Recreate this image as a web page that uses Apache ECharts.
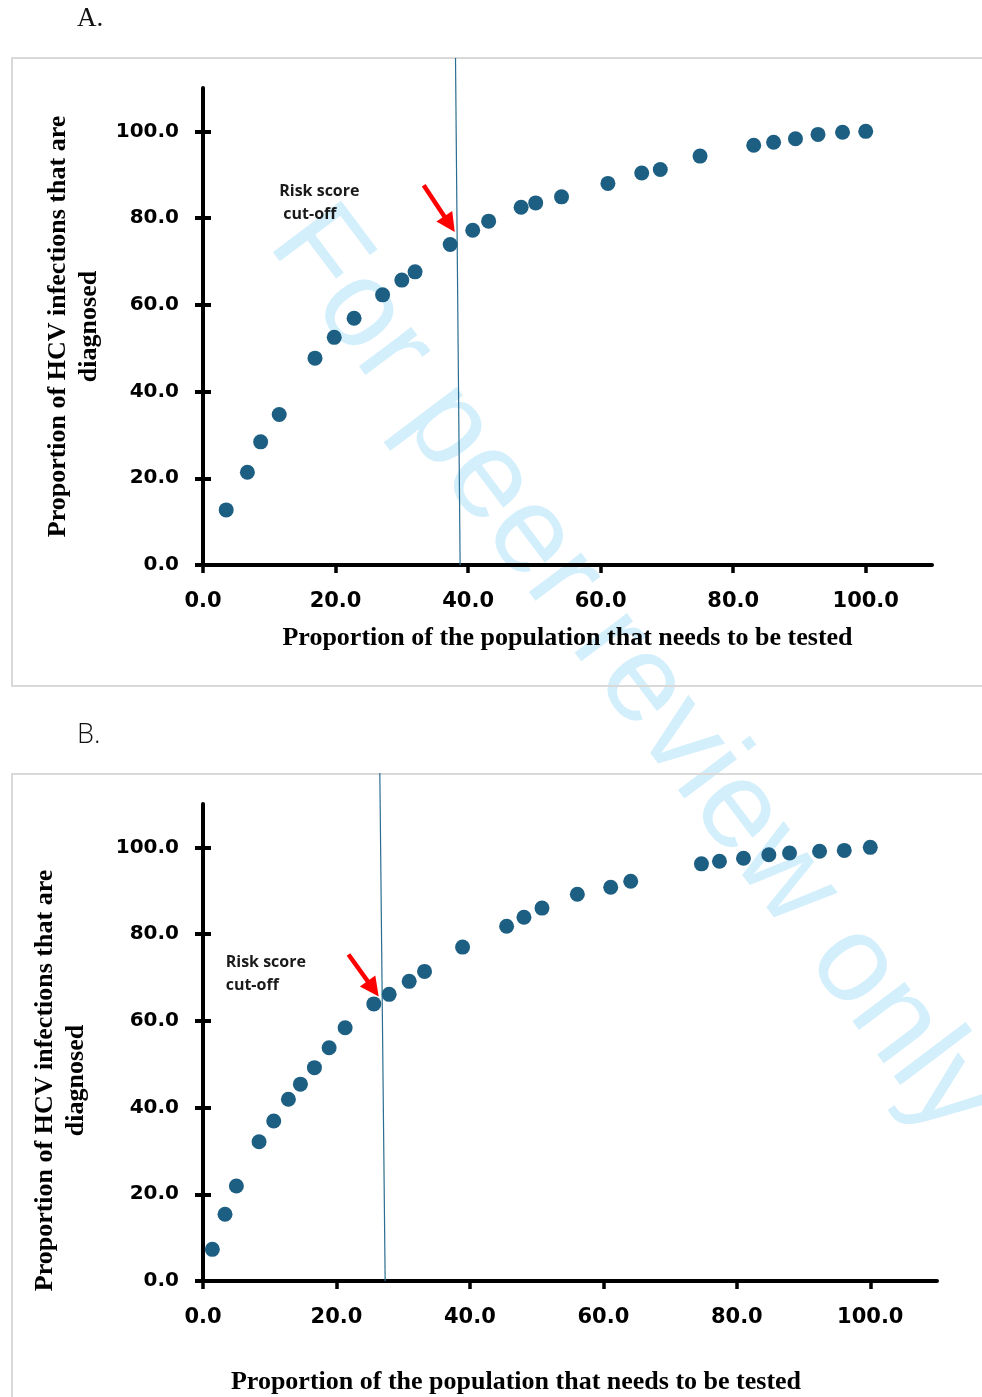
<!DOCTYPE html>
<html>
<head>
<meta charset="utf-8">
<script src="https://cdn.jsdelivr.net/npm/echarts@6/dist/echarts.min.js"></script>
<style>
  html, body { margin: 0; padding: 0; background: #ffffff; }
  #chart { width: 982px; height: 1397px; }
</style>
</head>
<body>
<div id="chart"></div>
<script>
// Panel A: proportion of population tested (x) vs proportion of HCV infections diagnosed (y)
const popTestedA = [3.5, 6.7, 8.7, 11.5, 16.9, 19.8, 22.8, 27.1, 30.0, 32.0, 37.3, 40.7, 43.1, 48.0, 50.2, 54.1, 61.1, 66.2, 69.0, 75.0, 83.1, 86.1, 89.4, 92.8, 96.5, 100.0];
const diagnosedA  = [12.7, 21.4, 28.4, 34.7, 47.7, 52.5, 56.9, 62.3, 65.7, 67.6, 73.9, 77.2, 79.3, 82.5, 83.5, 84.9, 88.0, 90.4, 91.2, 94.3, 96.8, 97.5, 98.3, 99.3, 99.8, 100.0];

// Panel B
const popTestedB = [1.4, 3.3, 5.0, 8.4, 10.6, 12.8, 14.6, 16.7, 18.9, 21.3, 25.6, 27.9, 30.9, 33.2, 38.9, 45.5, 48.1, 50.8, 56.1, 61.1, 64.1, 74.7, 77.4, 81.0, 84.8, 87.9, 92.4, 96.1, 100.0];
const diagnosedB  = [7.3, 15.4, 21.9, 32.1, 36.9, 41.9, 45.4, 49.2, 53.8, 58.4, 63.9, 66.1, 69.1, 71.4, 77.0, 81.8, 83.9, 86.0, 89.2, 90.8, 92.2, 96.2, 96.8, 97.5, 98.3, 98.7, 99.1, 99.3, 100.0];

// Axis tick values
const tickValues = [0, 20, 40, 60, 80, 100];
const axisMax = 110;

// Risk score cut-off (x position of vertical line at its top and bottom end)
const cutoffA = [38.1, 38.8];
const cutoffB = [26.5, 27.3];

// Arrow from tail to head centre (data units)
const arrowA = [[33.3, 87.6], [37.2, 78.6]];
const arrowB = [[21.8, 75.3], [25.5, 67.4]];

// Annotation anchor points (data units)
const noteA = [11.5, 83.4];
const noteB = [3.4, 70.7];
const noteTextA = 'Risk score\n cut-off';
const noteTextB = 'Risk score\ncut-off';

const xTitle = 'Proportion of the population that needs to be tested';
const yTitle = 'Proportion of HCV infections that are\ndiagnosed';

const DOT = '#1d5f82';
const CUT = '#2c6e91';

function pairs(xs, ys) { return xs.map((x, i) => [x, ys[i]]); }
const fmt = v => v.toFixed(1);

function mainX(grid, titleGap, titlePad) {
  return {
    type: 'value', gridIndex: grid, min: 0, max: axisMax,
    splitLine: { show: false },
    axisLine: { show: true, onZero: false, lineStyle: { color: '#000', width: 4 } },
    axisTick: { show: true, length: 8, lineStyle: { color: '#000', width: 3.5 }, customValues: tickValues },
    axisLabel: { customValues: tickValues, formatter: fmt, margin: 26, color: '#000',
      fontFamily: 'DejaVu Sans', fontWeight: 'bold', fontSize: 21 },
    name: xTitle, nameLocation: 'middle', nameGap: titleGap,
    nameTextStyle: { fontFamily: 'Liberation Serif', fontWeight: 'bold', fontSize: 26, color: '#000', padding: titlePad }
  };
}
function mainY(grid, titleGap, titlePad) {
  return {
    type: 'value', gridIndex: grid, min: 0, max: axisMax,
    splitLine: { show: false },
    axisLine: { show: true, onZero: false, lineStyle: { color: '#000', width: 4 } },
    axisTick: { show: true, length: 8, lineStyle: { color: '#000', width: 4 }, customValues: tickValues },
    axisLabel: { customValues: tickValues, formatter: fmt, margin: 24, color: '#000',
      fontFamily: 'DejaVu Sans', fontWeight: 'bold', fontSize: 20 },
    name: yTitle, nameLocation: 'middle', nameGap: titleGap, nameRotate: 90,
    nameTextStyle: { fontFamily: 'Liberation Serif', fontWeight: 'bold', fontSize: 26, lineHeight: 31,
      color: '#000', padding: titlePad }
  };
}
// inner half of the crossing y ticks
function innerY(grid) {
  return {
    type: 'value', gridIndex: grid, min: 0, max: axisMax, position: 'left',
    splitLine: { show: false }, axisLine: { show: false }, axisLabel: { show: false },
    axisTick: { show: true, inside: true, length: 8, lineStyle: { color: '#000', width: 4 }, customValues: tickValues }
  };
}
function hiddenX(grid) {
  return { type: 'value', gridIndex: grid, min: 0, max: axisMax, show: false };
}
function hiddenY(grid) {
  return { type: 'value', gridIndex: grid, min: 0, max: 1, show: false };
}

function dots(xi, yi, xs, ys, note, noteText, arrow) {
  return {
    type: 'scatter', xAxisIndex: xi, yAxisIndex: yi,
    data: pairs(xs, ys), symbol: 'circle', symbolSize: 15,
    itemStyle: { color: DOT, opacity: 1 }, z: 5,
    markPoint: {
      silent: true, symbol: 'circle', symbolSize: 0,
      label: { show: true, position: [0, 0], align: 'left', verticalAlign: 'middle',
        fontFamily: 'Open Sans', fontWeight: 'bold', fontSize: 16, lineHeight: 23, color: '#1a1a1a',
        formatter: noteText },
      data: [{ coord: note }]
    },
    markLine: {
      silent: true, symbol: ['none', 'triangle'], symbolSize: 19,
      label: { show: false },
      lineStyle: { color: '#ff0000', width: 4.5, type: 'solid', opacity: 1 },
      itemStyle: { color: '#ff0000' },
      data: [[{ coord: arrow[0] }, { coord: arrow[1] }]]
    }
  };
}
function cutLine(xi, yi, cut) {
  return {
    type: 'scatter', xAxisIndex: xi, yAxisIndex: yi, data: [],
    markLine: {
      silent: true, symbol: ['none', 'none'], label: { show: false },
      lineStyle: { color: CUT, width: 1.2, type: 'solid' },
      data: [[{ coord: [cut[0], 1] }, { coord: [cut[1], 0] }]]
    }
  };
}

const chart = echarts.init(document.getElementById('chart'), null, { renderer: 'canvas' });
chart.setOption({
  animation: false,
  backgroundColor: '#ffffff',
  graphic: [
    { type: 'text', x: 632, y: 672, z: -10, rotation: -53 * Math.PI / 180,
      style: { text: 'For peer review only', font: '124px "Liberation Sans"', fill: '#d4effc',
        textAlign: 'center', textVerticalAlign: 'middle' } },
    { type: 'rect', z: -5, shape: { x: 12, y: 58, width: 990, height: 628 },
      style: { fill: 'none', stroke: '#d9d9d9', lineWidth: 2 } },
    { type: 'rect', z: -5, shape: { x: 12, y: 774, width: 990, height: 660 },
      style: { fill: 'none', stroke: '#d9d9d9', lineWidth: 2 } },
    { type: 'text', x: 77, y: 19, style: { text: 'A.', font: '27px "Liberation Serif"', fill: '#111',
        textVerticalAlign: 'middle' } },
    { type: 'text', x: 77, y: 735, style: { text: 'B.', font: '300 27px "Open Sans"', fill: '#111',
        textVerticalAlign: 'middle' } }
  ],
  grid: [
    { left: 203, right: 50, top: 88, bottom: 832 },
    { left: 203, right: 50, top: 58, bottom: 832 },
    { left: 203, right: 45, top: 804, bottom: 116 },
    { left: 203, right: 45, top: 773, bottom: 116 }
  ],
  xAxis: [
    mainX(0, 60, [0, 0, 0, 0]),
    hiddenX(1),
    mainX(2, 88, [0, 108, 0, 0]),
    hiddenX(3)
  ],
  yAxis: [
    mainY(0, 91, [0, 0, 0, 0]),
    innerY(0),
    hiddenY(1),
    mainY(2, 111, [0, 76, 0, 0]),
    innerY(2),
    hiddenY(3)
  ],
  series: [
    cutLine(1, 2, cutoffA),
    dots(0, 0, popTestedA, diagnosedA, noteA, noteTextA, arrowA),
    cutLine(3, 5, cutoffB),
    dots(2, 3, popTestedB, diagnosedB, noteB, noteTextB, arrowB)
  ]
});
</script>
</body>
</html>
